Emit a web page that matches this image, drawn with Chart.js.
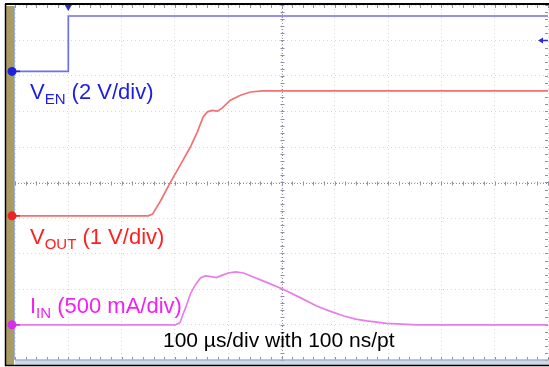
<!DOCTYPE html>
<html lang="en">
<head>
<meta charset="UTF-8">
<title>Enable start-up waveform</title>
<script src="https://cdn.jsdelivr.net/npm/chart.js"></script>
<style>
  html, body { margin: 0; padding: 0; background: #fff; }
</style>
</head>
<body>
<canvas id="scope" width="549" height="367"></canvas>
<script>
// time in µs (100 µs/div), vertical position in screen divisions (0 = bottom, 10 = top)
const enTime = [0, 100, 100, 1000];
const enLevel = [8.13, 8.13, 9.69, 9.69];

const outTime = [0, 250, 258, 273, 291, 310, 329, 342, 353, 361, 370, 380, 389, 404, 423, 442, 464, 1000];
const outLevel = [4.06, 4.06, 4.11, 4.48, 4.99, 5.49, 6.00, 6.42, 6.85, 6.99, 7.03, 7.01, 7.10, 7.32, 7.46, 7.55, 7.58, 7.58];

const inTime = [0, 301, 308, 310, 314, 322, 329, 338, 348, 357, 368, 378, 389, 400, 414, 429, 447, 470, 502, 536, 566, 592, 617, 639, 660, 697, 754, 1000];
const inLevel = [0.99, 0.99, 1.04, 1.07, 1.24, 1.55, 1.86, 2.11, 2.31, 2.37, 2.35, 2.32, 2.39, 2.45, 2.48, 2.45, 2.34, 2.20, 2.00, 1.75, 1.52, 1.37, 1.24, 1.15, 1.10, 1.03, 0.99, 0.99];

const triggerTime = 100;
const triggerLevel = 9.0;

const toPoints = (t, v) => t.map((x, i) => ({ x: x, y: v[i] }));

function drawLabel(ctx, x, y, main, sub, rest, color) {
  ctx.fillStyle = color;
  ctx.font = '22px "Liberation Sans", Arial, sans-serif';
  ctx.fillText(main, x, y);
  x += ctx.measureText(main).width;
  ctx.font = '15px "Liberation Sans", Arial, sans-serif';
  ctx.fillText(sub, x, y + 5);
  x += ctx.measureText(sub).width;
  ctx.font = '22px "Liberation Sans", Arial, sans-serif';
  ctx.fillText(rest, x, y);
}

const scopeFrame = {
  id: 'scopeFrame',
  beforeDraw(chart) {
    const { ctx, chartArea: a, width, height } = chart;
    ctx.save();
    ctx.fillStyle = '#fff';
    ctx.fillRect(0, 0, width, height);
    // khaki strip at the left
    ctx.fillStyle = '#a89b64';
    ctx.fillRect(6, 6, a.left - 7, height - 8);
    ctx.strokeStyle = '#9fb3d9';
    ctx.lineWidth = 1;
    ctx.beginPath();
    ctx.moveTo(a.left - 0.5, 6);
    ctx.lineTo(a.left - 0.5, a.bottom);
    ctx.stroke();
    // bottom strip
    ctx.fillStyle = '#d3d7df';
    ctx.fillRect(a.left, a.bottom, width - a.left, height - a.bottom - 2);
    ctx.restore();
  },
  beforeDatasetsDraw(chart) {
    const { ctx, chartArea: a, scales: { x, y } } = chart;
    ctx.save();
    ctx.strokeStyle = '#8e90a2';
    ctx.lineWidth = 1;
    const cx = Math.round(x.getPixelForValue(500)) + 0.5;
    const cy = Math.round(y.getPixelForValue(5)) + 0.5;
    ctx.setLineDash([1, 2]);
    ctx.beginPath();
    ctx.moveTo(cx, a.top); ctx.lineTo(cx, a.bottom);
    ctx.moveTo(a.left, cy); ctx.lineTo(a.right, cy);
    ctx.stroke();
    ctx.setLineDash([]);
    ctx.beginPath();
    for (let t = 0; t <= 1000; t += 20) {
      const px = Math.round(x.getPixelForValue(t)) + 0.5;
      ctx.moveTo(px, cy - 2); ctx.lineTo(px, cy + 2);
      ctx.moveTo(px, a.top); ctx.lineTo(px, a.top + 3);
      ctx.moveTo(px, a.bottom - 3); ctx.lineTo(px, a.bottom);
    }
    for (let v = 0; v <= 10.001; v += 0.2) {
      const py = Math.round(y.getPixelForValue(v)) + 0.5;
      ctx.moveTo(cx - 2, py); ctx.lineTo(cx + 2, py);
      ctx.moveTo(a.right - 3, py); ctx.lineTo(a.right, py);
    }
    ctx.stroke();
    // bottom edge line
    ctx.strokeStyle = '#9fb3d9';
    ctx.lineWidth = 1.5;
    ctx.beginPath();
    ctx.moveTo(a.left, a.bottom); ctx.lineTo(a.right, a.bottom);
    ctx.stroke();
    ctx.restore();
  },
  afterDatasetsDraw(chart) {
    const { ctx, chartArea: a, scales: { x, y }, width, height } = chart;
    ctx.save();
    // outer black frame
    ctx.strokeStyle = '#000';
    ctx.lineWidth = 2;
    ctx.beginPath();
    ctx.moveTo(5, 4); ctx.lineTo(width, 4);
    ctx.stroke();
    ctx.lineWidth = 1.5;
    ctx.beginPath();
    ctx.moveTo(5.5, 4); ctx.lineTo(5.5, height - 1.5);
    ctx.lineTo(width, height - 1.5);
    ctx.stroke();

    // channel ground markers
    chart.data.datasets.forEach(ds => {
      const py = y.getPixelForValue(ds.data[0].y);
      ctx.fillStyle = ds.markerColor;
      ctx.beginPath();
      ctx.arc(12, py, 4.5, 0, Math.PI * 2);
      ctx.fill();
      ctx.strokeStyle = ds.markerColor;
      ctx.lineWidth = 1.5;
      ctx.beginPath();
      ctx.moveTo(15, py); ctx.lineTo(20, py);
      ctx.stroke();
    });

    // trigger position and level
    const tx = x.getPixelForValue(triggerTime);
    ctx.fillStyle = '#2b2bd6';
    ctx.beginPath();
    ctx.moveTo(tx - 3.5, a.top); ctx.lineTo(tx + 3.5, a.top); ctx.lineTo(tx, a.top + 6);
    ctx.closePath();
    ctx.fill();
    const ty = y.getPixelForValue(triggerLevel);
    ctx.beginPath();
    ctx.moveTo(a.right - 10, ty); ctx.lineTo(a.right - 5, ty - 3); ctx.lineTo(a.right - 5, ty + 3);
    ctx.closePath();
    ctx.fill();
    ctx.strokeStyle = '#2b2bd6';
    ctx.lineWidth = 1.5;
    ctx.beginPath();
    ctx.moveTo(a.right - 6, ty); ctx.lineTo(a.right, ty);
    ctx.stroke();

    // channel labels
    ctx.textBaseline = 'alphabetic';
    drawLabel(ctx, 30, 99, 'V', 'EN', ' (2 V/div)', '#1d1de3');
    drawLabel(ctx, 30, 244, 'V', 'OUT', ' (1 V/div)', '#ff1f1f');
    drawLabel(ctx, 30, 313, 'I', 'IN', ' (500 mA/div)', '#f21ff2');
    ctx.fillStyle = '#000';
    ctx.font = '21px "Liberation Sans", Arial, sans-serif';
    ctx.fillText('100 \u00b5s/div with 100 ns/pt', 163, 347);
    ctx.restore();
  }
};

new Chart(document.getElementById('scope'), {
  type: 'line',
  data: {
    datasets: [
      { label: 'VEN', data: toPoints(enTime, enLevel), borderColor: '#7070e6', markerColor: '#1f1fe0', borderWidth: 1.7 },
      { label: 'VOUT', data: toPoints(outTime, outLevel), borderColor: '#f07272', markerColor: '#ee2222', borderWidth: 1.7 },
      { label: 'IIN', data: toPoints(inTime, inLevel), borderColor: '#e77ee7', markerColor: '#d52fe8', borderWidth: 1.7 }
    ]
  },
  options: {
    responsive: false,
    animation: false,
    layout: { padding: { left: 15, right: 1, top: 5, bottom: 7 } },
    elements: { point: { radius: 0 }, line: { tension: 0 } },
    plugins: { legend: { display: false }, tooltip: { enabled: false } },
    scales: {
      x: {
        type: 'linear', min: 0, max: 1000,
        ticks: { display: false, stepSize: 100 },
        grid: { color: '#d3d5df', drawTicks: false },
        border: { display: false, dash: [1, 3] }
      },
      y: {
        type: 'linear', min: 0, max: 10,
        ticks: { display: false, stepSize: 1 },
        grid: { color: '#d3d5df', drawTicks: false },
        border: { display: false, dash: [1, 3] }
      }
    }
  },
  plugins: [scopeFrame]
});
</script>
</body>
</html>
